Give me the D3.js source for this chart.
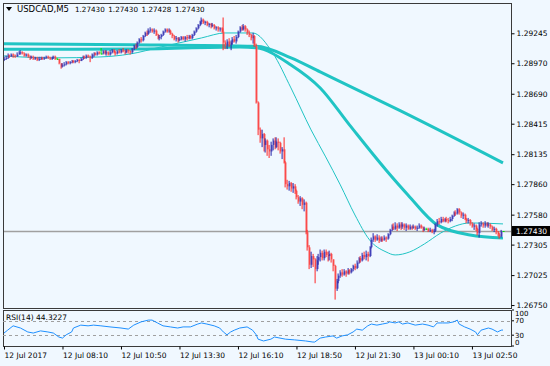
<!DOCTYPE html>
<html>
<head>
<meta charset="utf-8">
<script src="https://cdn.jsdelivr.net/npm/d3@7"></script>
<style>
  html, body { margin: 0; padding: 0; background: #f0f8ff; }
  svg { display: block; }
  text { font-family: "DejaVu Sans", sans-serif; fill: #000; }
</style>
</head>
<body>
<svg id="chart" width="550" height="366"></svg>
<script>
// USDCAD M5, 12-13 Jul 2017. Prices are kept in pips above 1.2000
const BASE = 1.2, PIP = 0.0001;
const symbol = "USDCAD,M5";
const lastBar = ["1.27430", "1.27430", "1.27428", "1.27430"];
const lastPrice = 1.27430;

const firstOpen = 900;
const closes = [
  901,902,904,903,905,904,903,905,906,907, 906,904,905,903,902,903,901,902,900,901,
  902,901,902,903,902,901,902,903,901,901, 897,894,895,896,898,897,898,899,898,899,
  900,899,901,903,902,904,903,902,905,906, 905,907,906,906,908,906,907,905,907,909,
  907,906,908,907,909,908,907,909,908,907, 910,913,912,916,919,918,922,925,924,927,
  928,926,927,923,920,921,923,926,928,926, 927,924,922,919,920,918,919,921,919,921,
  920,922,920,923,926,929,932,935,937,934, 935,932,933,931,932,929,930,928,929,926,
  916,913,917,914,916,919,917,921,926,930, 928,931,928,925,923,920,922,913,861,836,
  828,832,822,826,818,816,822,826,820,825, 824,816,818,806,786,784,787,782,784,780,
  774,770,773,767,769,742,728,712,720,717, 708,716,719,723,718,724,721,720,722,717,
  711,690,697,702,705,703,706,704,707,705, 708,711,709,714,718,716,721,719,722,720,
  728,735,738,735,737,734,736,735,737,736, 740,744,747,745,748,746,749,747,749,746,
  748,745,747,746,747,745,746,748,746,744, 745,745,743,744,742,743,749,752,751,754,
  752,754,753,752,754,757,760,759,763,760, 757,758,754,752,753,750,747,748,745,741,
  749,750,748,750,748,749,747,744,745,742, 740,738,743,743
];
const highs = [
  903,904,906,905,906,906,905,907,908,909, 908,907,906,906,904,904,904,903,903,903,
  903,903,903,904,904,903,903,904,904,902, 901,897,897,898,899,899,899,900,900,900,
  901,901,902,904,904,905,905,904,906,907, 907,908,908,911,909,909,909,908,909,910,
  910,908,909,910,910,911,909,910,910,909, 911,914,915,917,920,921,923,926,927,929,
  930,929,929,928,924,923,924,927,929,929, 929,928,925,923,922,921,921,922,922,922,
  923,923,923,924,927,930,933,936,939,938, 936,936,934,934,934,933,931,931,930,930,
  939,918,919,920,918,921,922,923,927,931, 932,933,932,929,927,924,925,923,915,862,
  838,836,833,828,827,822,825,828,829,829, 828,825,820,829,807,790,789,788,787,786,
  781,776,775,774,772,770,744,730,724,722, 718,720,722,726,725,726,726,724,725,723,
  717,712,699,704,707,708,708,707,709,708, 709,712,713,716,719,720,723,724,725,724,
  729,737,741,739,740,739,738,738,739,738, 741,745,749,750,751,750,751,751,751,750,
  750,749,749,748,749,748,748,750,749,747, 747,746,746,746,745,745,750,754,755,756,
  756,755,756,755,756,758,761,762,764,764, 761,760,759,755,755,754,751,750,749,746,
  751,752,751,752,751,751,750,748,747,746, 743,741,744,743
];
const lows = [
  899,900,901,902,903,902,902,903,905,905, 905,903,903,902,900,901,900,900,899,899,
  900,900,900,901,901,900,900,901,900,900, 896,892,893,894,895,896,896,897,897,897,
  898,897,899,900,901,901,902,898,901,903, 904,904,905,905,905,905,904,904,904,906,
  906,904,905,906,906,907,905,906,906,905, 906,909,910,911,915,916,917,921,922,923,
  925,925,924,922,919,918,919,922,925,925, 925,923,920,918,917,916,917,918,918,917,
  918,919,919,919,922,925,928,931,933,933, 932,931,930,929,930,928,927,926,926,925,
  909,910,910,912,909,914,916,915,920,925, 927,927,926,923,921,918,915,912,860,831,
  824,820,816,815,812,810,812,817,818,819, 817,814,809,805,783,781,780,779,778,777,
  772,768,766,763,761,740,725,708,709,710, 695,706,712,715,716,716,719,715,716,714,
  706,680,688,695,700,701,702,701,703,703, 704,706,707,708,713,714,715,717,716,715,
  719,727,733,733,734,732,733,733,734,733, 735,739,743,744,744,743,745,744,745,744,
  743,744,744,744,745,744,743,745,745,742, 743,744,742,742,741,740,742,747,749,750,
  751,751,751,750,751,752,756,757,758,758, 755,754,753,750,750,748,746,744,743,739,
  737,747,746,746,747,746,745,743,742,740, 738,736,737,742.8
];

// moving averages: [bar, price]
const maSlow = [[0,1.29148],[69,1.29140],[138,1.29125],[157,1.29019],[173,1.28890],[217,1.28532],[273,1.28055]];
const maMid = [[0,1.29098],[69,1.29100],[129,1.29120],[138,1.29112],[157,1.28954],[173,1.28743],[189,1.28404],
  [209,1.27990],[221,1.27761],[237,1.27486],[255,1.27394],[273,1.27366]];
const maFast = [[0,1.29037],[26,1.29019],[53,1.29028],[69,1.29055],[86,1.29120],[108,1.29202],[121,1.29248],
  [136,1.29248],[147,1.29065],[157,1.28743],[168,1.28358],[176,1.28110],[184,1.27853],[192,1.27577],
  [200,1.27348],[209,1.27238],[214,1.27210],[222,1.27238],[230,1.27311],[239,1.27412],[247,1.27476],
  [255,1.27504],[273,1.27495]];

const rsiBars = [0,2,5,9,13,16,20,24,27,30,32,34,37,38,42,46,49,53,58,64,68,71,75,79,81,84,87,91,95,98,
  102,106,108,111,115,118,120,122,124,126,129,133,136,138,139,142,146,148,154,159,165,169,170,173,176,
  180,182,185,188,191,193,196,199,201,204,207,210,211,214,216,218,221,225,229,232,235,237,240,243,246,
  248,249,252,255,258,259,261,265,267,270,272,273];
const rsiValues = [36,44,56,50,39,36,42,39,36,25,22,31,39,50,58,56,58,56,53,50,47,58,67,72,72,64,56,53,50,53,
  53,61,64,61,56,50,39,31,39,44,50,53,44,31,19,14,19,25,19,17,14,11,11,22,25,28,22,28,31,39,
  47,44,56,61,58,61,64,67,64,67,61,64,58,61,58,53,64,64,64,67,72,61,53,47,39,31,44,50,47,39,44,44.32];
const rsiLabel = "RSI(14) 44.3227";
const rsiLevels = [70, 30];
const rsiTicks = [100, 70, 30, 0];

const priceTicks = [1.29245,1.28970,1.28690,1.28415,1.28135,1.27860,1.27580,1.27305,1.27025,1.26750];
const timeBars = [0,32,64,96,128,160,192,224,256];
const timeLabels = ["12 Jul 2017","12 Jul 08:10","12 Jul 10:50","12 Jul 13:30","12 Jul 16:10",
  "12 Jul 18:50","12 Jul 21:30","13 Jul 00:10","13 Jul 02:50"];

const bars = closes.map((c, i) => {
  const o = i === 0 ? firstOpen : closes[i - 1];
  return { i, o: BASE + o * PIP, c: BASE + c * PIP, h: BASE + highs[i] * PIP, l: BASE + lows[i] * PIP };
});

const svg = d3.select("#chart");
const L = 3, R = 511, T = 3, B = 308, RT = 310, RB = 346;
const x = d3.scaleLinear().domain([0, bars.length - 1]).range([L + 1, 503]);
const y = d3.scaleLinear().domain([1.26723, 1.29523]).range([B, T]);
const yr = d3.scaleLinear().domain([0, 100]).range([RB, RT]);

svg.append("rect").attr("width", 550).attr("height", 366).attr("fill", "#f0f8ff");
const defs = svg.append("defs");
defs.append("clipPath").attr("id", "mainClip").append("rect")
  .attr("x", L).attr("y", T).attr("width", R - L).attr("height", B - T);
defs.append("clipPath").attr("id", "rsiClip").append("rect")
  .attr("x", L).attr("y", RT).attr("width", R - L).attr("height", RB - RT);

const main = svg.append("g").attr("clip-path", "url(#mainClip)");

// current price line
main.append("line").attr("x1", L).attr("x2", R)
  .attr("y1", Math.round(y(lastPrice)) + 0.5).attr("y2", Math.round(y(lastPrice)) + 0.5)
  .attr("stroke", "#a0a0a0").attr("stroke-width", 1.5);

// moving averages
const maLine = d3.line().x(d => x(d[0])).y(d => y(d[1])).curve(d3.curveMonotoneX);
const maColor = "#20c4c4";
main.append("path").datum(maSlow).attr("d", maLine).attr("fill", "none").attr("stroke", maColor).attr("stroke-width", 3);
main.append("path").datum(maMid).attr("d", maLine).attr("fill", "none").attr("stroke", maColor).attr("stroke-width", 3);
main.append("path").datum(maFast).attr("d", maLine).attr("fill", "none").attr("stroke", maColor).attr("stroke-width", 1);

// candles
const cg = main.append("g");
bars.forEach(b => {
  const px = Math.round(x(b.i));
  const up = b.c > b.o, flat = b.c === b.o;
  const wick = flat ? "#00e000" : up ? "#2424a8" : "#ff2626";
  const body = flat ? "#00e000" : up ? "#7070d2" : "#f48282";
  const yTop = y(Math.max(b.o, b.c)), yBot = y(Math.min(b.o, b.c));
  cg.append("rect").attr("x", px).attr("y", yTop).attr("width", 1.6)
    .attr("height", Math.max(1, yBot - yTop)).attr("fill", body);
  const hi = Math.max(b.h, b.o, b.c), lo = Math.min(b.l, b.o, b.c);
  cg.append("rect").attr("x", px - 0.4).attr("y", y(hi)).attr("width", 1)
    .attr("height", Math.max(1, y(lo) - y(hi))).attr("fill", wick);
});

// panel frames
svg.append("rect").attr("x", L + 0.5).attr("y", T + 0.5).attr("width", R - L).attr("height", B - T)
  .attr("fill", "none").attr("stroke", "#3a3a3a");
svg.append("rect").attr("x", L + 0.5).attr("y", RT + 0.5).attr("width", R - L).attr("height", RB - RT)
  .attr("fill", "none").attr("stroke", "#3a3a3a");

// price axis
const yAxis = d3.axisRight(y).tickValues(priceTicks).tickSize(3).tickPadding(2).tickFormat(d3.format(".5f"));
const ya = svg.append("g").attr("transform", `translate(${R + 0.5},0)`).call(yAxis);
ya.select(".domain").remove();
ya.selectAll("text").style("font-size", "7.5px").attr("fill", "#000");
ya.selectAll("line").attr("stroke", "#000");

// last price tag
const ly = y(lastPrice);
svg.append("rect").attr("x", R + 1).attr("y", ly - 5).attr("width", 550 - R - 1).attr("height", 10).attr("fill", "#000");
svg.append("text").attr("x", R + 5).attr("y", ly).attr("dy", "0.35em").style("font-size", "7.5px")
  .style("fill", "#fff").text(d3.format(".5f")(lastPrice));

// RSI panel
const rsiG = svg.append("g").attr("clip-path", "url(#rsiClip)");
rsiG.selectAll("line.level").data(rsiLevels).join("line").attr("class", "level")
  .attr("x1", L).attr("x2", R).attr("y1", d => Math.round(yr(d)) + 0.5).attr("y2", d => Math.round(yr(d)) + 0.5)
  .attr("stroke", "#a0a0a0").attr("stroke-dasharray", "3,3");
const rsiLine = d3.line().x((d, k) => x(rsiBars[k])).y(d => yr(d));
rsiG.append("path").datum(rsiValues).attr("d", rsiLine).attr("fill", "none")
  .attr("stroke", "#1e90ff").attr("stroke-width", 1);
svg.append("text").attr("x", 6).attr("y", 320).style("font-size", "7.5px").text(rsiLabel);

// MT4 squeezes the 100/0 labels inside the panel
svg.selectAll("text.rsiTick").data(rsiTicks).join("text").attr("class", "rsiTick")
  .attr("x", R + 4).attr("y", d => Math.min(RB - 3, Math.max(RT + 4, yr(d)))).attr("dy", "0.35em")
  .style("font-size", "7px").text(d => d);
svg.selectAll("line.rsiTickMark").data(rsiTicks).join("line").attr("class", "rsiTickMark")
  .attr("x1", R + 1).attr("x2", R + 3).attr("y1", d => yr(d)).attr("y2", d => yr(d)).attr("stroke", "#000");

// time axis
const xAxis = d3.axisBottom(x).tickValues(timeBars).tickSize(3).tickPadding(3).tickFormat((d, k) => timeLabels[k]);
const xa = svg.append("g").attr("transform", `translate(0,${RB + 0.5})`).call(xAxis);
xa.select(".domain").remove();
xa.selectAll("text").style("font-size", "7.5px").attr("text-anchor", "start").attr("fill", "#000");
xa.selectAll("line").attr("stroke", "#000");

// title
svg.append("path").attr("d", "M6,7L12,7L9,11Z").attr("fill", "#000");
svg.append("text").attr("x", 17).attr("y", 12).style("font-size", "8.5px").text(symbol);
svg.selectAll("text.ohlc").data(lastBar).join("text").attr("class", "ohlc")
  .attr("x", (d, k) => 75 + k * 33.3).attr("y", 12).style("font-size", "7.2px").text(d => d);
</script>
</body>
</html>
